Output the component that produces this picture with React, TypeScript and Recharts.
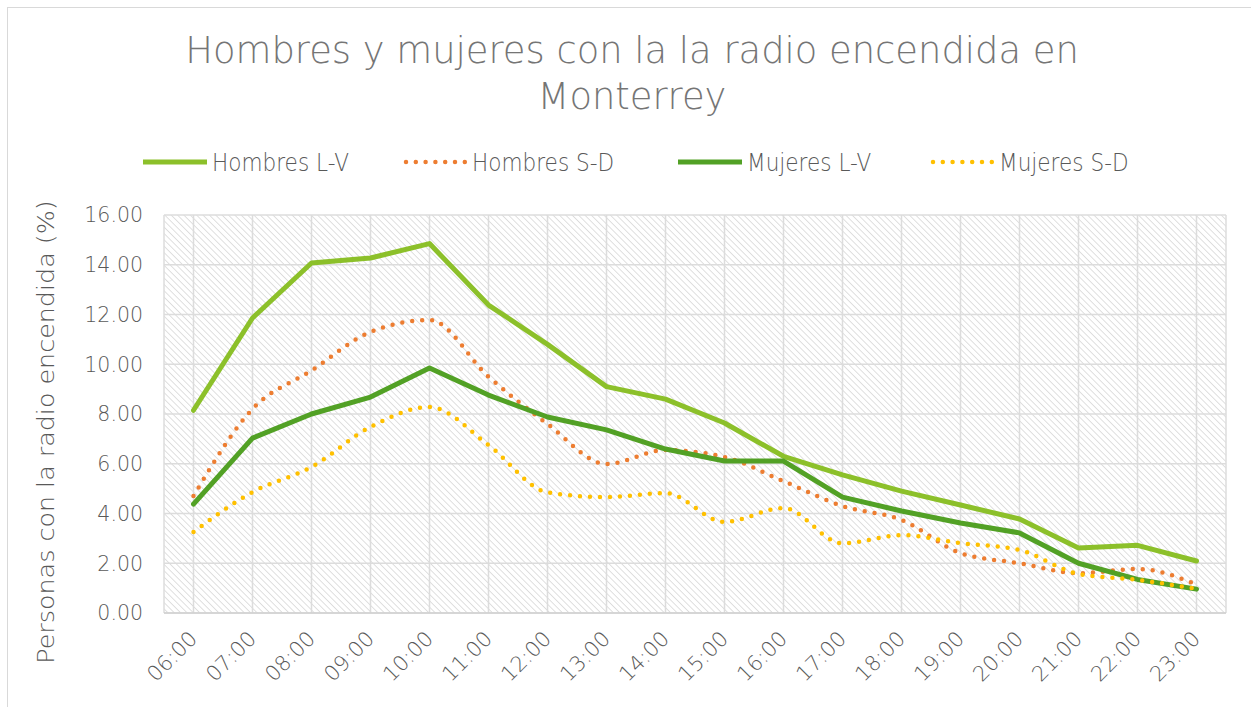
import { LineChart, Line, XAxis, YAxis, CartesianGrid } from 'recharts';

// ─── Data ────────────────────────────────────────────
const hours = [
  '06:00', '07:00', '08:00', '09:00', '10:00', '11:00', '12:00', '13:00', '14:00',
  '15:00', '16:00', '17:00', '18:00', '19:00', '20:00', '21:00', '22:00', '23:00',
];
const hombresLV = [8.15, 11.86, 14.07, 14.27, 14.85, 12.38, 10.8, 9.1, 8.6, 7.64, 6.3, 5.55, 4.9, 4.34, 3.78, 2.61, 2.72, 2.09];
const hombresSD = [4.7, 8.2, 9.75, 11.3, 11.78, 9.5, 7.6, 5.99, 6.55, 6.27, 5.3, 4.3, 3.74, 2.41, 2.0, 1.6, 1.77, 1.15];
const mujeresLV = [4.38, 7.03, 8.0, 8.68, 9.85, 8.76, 7.88, 7.36, 6.59, 6.11, 6.11, 4.66, 4.1, 3.62, 3.22, 2.0, 1.35, 0.96];
const mujeresSD = [3.26, 4.86, 5.87, 7.48, 8.28, 6.75, 4.85, 4.66, 4.82, 3.66, 4.22, 2.8, 3.13, 2.81, 2.53, 1.57, 1.33, 0.97];
const yTicks = [0, 2, 4, 6, 8, 10, 12, 14, 16];

const series = [
  { key: 'hombresLV', name: 'Hombres L-V', color: '#8cc02a', dotted: false },
  { key: 'hombresSD', name: 'Hombres S-D', color: '#ed7d31', dotted: true },
  { key: 'mujeresLV', name: 'Mujeres L-V', color: '#52a125', dotted: false },
  { key: 'mujeresSD', name: 'Mujeres S-D', color: '#ffc000', dotted: true },
];

// left edge of each legend swatch
const legendX = [143, 403, 678, 930];

const rows = hours.map((h, i) => ({
  hour: h,
  hombresLV: hombresLV[i],
  hombresSD: hombresSD[i],
  mujeresLV: mujeresLV[i],
  mujeresSD: mujeresSD[i],
}));

// no Century Gothic available: DejaVu light is the closest in width
const FONT = '"DejaVu Sans", sans-serif';
const WEIGHT = 200;
const TEXT = '#595959';

function HourTick({ x, y, payload }: any) {
  const px = x + 5;
  const py = y + 27;
  return (
    <text
      x={px}
      y={py}
      textAnchor="end"
      fill={TEXT}
      fontSize={21}
      fontWeight={WEIGHT}
      fontFamily={FONT}
      transform={`rotate(-45, ${px}, ${py})`}
    >
      {payload.value}
    </text>
  );
}

export default function App() {
  return (
    <div style={{ position: 'absolute', left: 0, top: 0, width: 1251, height: 707, background: '#fff', overflow: 'hidden', fontFamily: FONT, fontWeight: WEIGHT }}>
      {/* chart frame, runs off the right/bottom edge like the screenshot */}
      <div style={{ position: 'absolute', left: 7, top: 7, width: 1260, height: 720, border: '1px solid #d9d9d9' }} />

      <div
        style={{
          position: 'absolute',
          left: 0,
          top: 27,
          width: 1264,
          textAlign: 'center',
          fontSize: 38,
          lineHeight: '46px',
          color: '#757575',
          transform: 'scaleX(0.97)',
          transformOrigin: '632px 0',
        }}
      >
        Hombres y mujeres con la la radio encendida en
        <br />
        Monterrey
      </div>

      {/* legend drawn by hand so it sits exactly where the original has it */}
      <svg style={{ position: 'absolute', left: 0, top: 0 }} width={1251} height={200}>
        {series.map((s, i) => {
          const sx = legendX[i];
          return (
            <g key={s.key}>
              <line
                x1={s.dotted ? sx + 3 : sx}
                y1={162}
                x2={s.dotted ? sx + 62 : sx + 64}
                y2={162}
                stroke={s.color}
                strokeWidth={s.dotted ? 4.5 : 5}
                strokeLinecap={s.dotted ? 'round' : 'butt'}
                strokeDasharray={s.dotted ? '0 9.8' : undefined}
              />
              <text
                transform={`translate(${sx + 69}, 171) scale(0.9, 1)`}
                fontSize={24}
                fontFamily={FONT}
                fontWeight={WEIGHT}
                fill={TEXT}
              >
                {s.name}
              </text>
            </g>
          );
        })}
      </svg>

      <div
        style={{
          position: 'absolute',
          left: 46,
          top: 432,
          transform: 'translate(-50%, -50%) rotate(-90deg) scaleX(1.08)',
          whiteSpace: 'nowrap',
          fontSize: 23.5,
          color: TEXT,
        }}
      >
        Personas con la radio encendida (%)
      </div>

      <div style={{ position: 'absolute', left: 0, top: 0 }}>
        <LineChart width={1251} height={707} data={rows} margin={{ top: 215, right: 25, bottom: 0, left: 0 }}>
          <defs>
            <pattern id="hatch" width={4.5} height={4.5} patternUnits="userSpaceOnUse" patternTransform="rotate(-45)">
              <rect width={4.5} height={4.5} fill="#ffffff" />
              <line x1={0} y1={0} x2={0} y2={4.5} stroke="#d2d2d2" strokeWidth={1.4} />
            </pattern>
          </defs>
          <CartesianGrid stroke="#dcdcdc" strokeWidth={1.5} fill="url(#hatch)" fillOpacity={1} />
          <XAxis
            dataKey="hour"
            scale="band"
            tickLine={false}
            axisLine={{ stroke: '#d0d0d0', strokeWidth: 1.5 }}
            tick={<HourTick />}
            interval={0}
            height={94}
            tickSize={0}
            tickMargin={0}
          />
          <YAxis
            domain={[0, 16]}
            ticks={yTicks}
            width={164}
            tickLine={false}
            axisLine={false}
            tickSize={0}
            tickMargin={21}
            tickFormatter={(v: number) => v.toFixed(2)}
            tick={{ fill: TEXT, fontSize: 20.5, fontFamily: FONT, fontWeight: WEIGHT }}
          />
          {series.map((s) => (
            <Line
              key={s.key}
              dataKey={s.key}
              name={s.name}
              stroke={s.color}
              strokeWidth={s.dotted ? 4.5 : 5}
              strokeLinecap="round"
              strokeLinejoin="round"
              strokeDasharray={s.dotted ? '0 10' : undefined}
              type={s.dotted ? 'monotone' : 'linear'}
              dot={false}
              activeDot={false}
              isAnimationActive={false}
            />
          ))}
        </LineChart>
      </div>
    </div>
  );
}
